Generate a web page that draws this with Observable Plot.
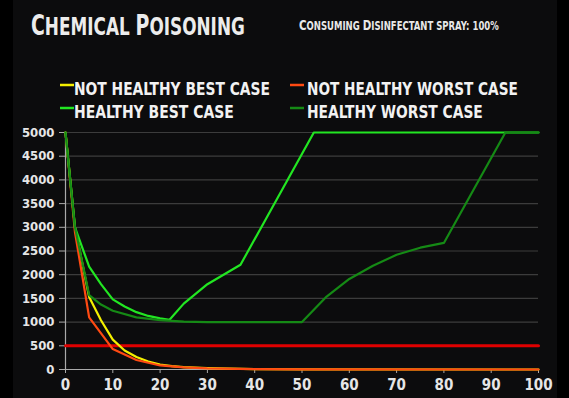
<!DOCTYPE html>
<html>
<head>
<meta charset="utf-8">
<script src="https://cdn.jsdelivr.net/npm/d3@7"></script>
<script src="https://cdn.jsdelivr.net/npm/@observablehq/plot@0.6"></script>
<style>
  html, body { margin: 0; padding: 0; background: #000; }
  #wrap { position: relative; width: 569px; height: 398px; background: #000; overflow: hidden; }
  #panel { position: absolute; left: 13px; top: 0; width: 544px; height: 398px; background: #0c0c0d; }
  #head, #chart { position: absolute; left: 0; }
  #head { top: 0; }
  #chart { top: 126px; }
  .nf { font-family: "Liberation Sans Narrow", "DejaVu Sans Condensed", "Arial Narrow", sans-serif; font-weight: bold; font-stretch: condensed; }
</style>
</head>
<body>
<div id="wrap">
  <div id="panel"></div>
  <svg id="head" width="569" height="126" class="nf">
    <text id="title" fill="#ececec"><tspan font-size="28">C</tspan><tspan font-size="25">HEMICAL </tspan><tspan font-size="28">P</tspan><tspan font-size="25">OISONING</tspan></text>
    <text id="subtitle" fill="#e8e8e8"><tspan font-size="14">C</tspan><tspan font-size="11.5">ONSUMING </tspan><tspan font-size="14">D</tspan><tspan font-size="11.5">ISINFECTANT SPRAY: 100%</tspan></text>
    <g id="legend"></g>
  </svg>
  <div id="chart"></div>
</div>
<script>
// Legend entries
const legendNames = ["NOT HEALTHY BEST CASE", "NOT HEALTHY WORST CASE", "HEALTHY BEST CASE", "HEALTHY WORST CASE"];
const legendColors = ["#f4f000", "#ff4a12", "#22e622", "#158a15"];

// Series data (x = time, y = value)
const notHealthyBestX = [0, 2, 5, 7.5, 10, 12.5, 15, 17.5, 20, 22.5, 25, 30, 40, 50, 100];
const notHealthyBestY = [5000, 3000, 1530, 1040, 630, 400, 265, 170, 105, 70, 50, 30, 10, 4, 0];

const notHealthyWorstX = [0, 2, 5, 10, 15, 20, 25, 30, 40, 50, 100];
const notHealthyWorstY = [5000, 2900, 1100, 430, 200, 85, 45, 25, 8, 3, 0];

const healthyBestX = [0, 2, 5, 7.5, 10, 12.5, 15, 17.5, 20, 22, 25, 30, 37, 52.5, 100];
const healthyBestY = [5000, 3000, 2170, 1800, 1480, 1330, 1210, 1130, 1080, 1050, 1390, 1800, 2210, 5000, 5000];

const healthyWorstX = [0, 2, 5, 7.5, 10, 15, 20, 25, 30, 40, 50, 55, 60, 65, 70, 75, 80, 93, 100];
const healthyWorstY = [5000, 3000, 1570, 1370, 1240, 1100, 1040, 1010, 1000, 1000, 1000, 1520, 1910, 2190, 2420, 2570, 2670, 5000, 5000];

const thresholdX = [0, 100];
const thresholdY = [500, 500];

const yTicks = [0, 500, 1000, 1500, 2000, 2500, 3000, 3500, 4000, 4500, 5000];
const xTicks = [0, 10, 20, 30, 40, 50, 60, 70, 80, 90, 100];

const toRows = (xs, ys) => xs.map((x, i) => ({x, y: ys[i]}));

// Fit a text element horizontally to a target width by scaling (keeps heights)
function fitText(el, x, y, width) {
  const natural = el.getComputedTextLength();
  const sx = natural > 0 ? width / natural : 1;
  el.setAttribute("transform", `translate(${x},${y}) scale(${sx},1)`);
}

const NS = "http://www.w3.org/2000/svg";
fitText(document.getElementById("title"), 31, 35, 214);
fitText(document.getElementById("subtitle"), 299, 30, 200);

// Legend drawing: [swatch x, text baseline, text x, text length]
const legendPos = [[60, 94.5, 74, 196], [290, 94.5, 307, 211], [60, 117.5, 74, 160], [290, 117.5, 307, 176]];
const lg = document.getElementById("legend");
legendNames.forEach((name, i) => {
  const [sx, by, tx, tl] = legendPos[i];
  const ln = document.createElementNS(NS, "line");
  ln.setAttribute("x1", sx); ln.setAttribute("x2", sx + 14);
  ln.setAttribute("y1", by - 9.5); ln.setAttribute("y2", by - 9.5);
  ln.setAttribute("stroke", legendColors[i]); ln.setAttribute("stroke-width", 2.5);
  lg.appendChild(ln);
  const t = document.createElementNS(NS, "text");
  t.setAttribute("font-size", 18); t.setAttribute("fill", "#f2f2f2");
  t.textContent = name;
  lg.appendChild(t);
  fitText(t, tx, by, tl);
});

const chart = Plot.plot({
  width: 569,
  height: 272,
  marginTop: 6,
  marginLeft: 65,
  marginRight: 31,
  marginBottom: 29,
  style: {background: "transparent", color: "#e6e6e6", fontFamily: "'Liberation Sans Narrow', 'DejaVu Sans Condensed', sans-serif", fontWeight: "bold"},
  x: {domain: [0, 100]},
  y: {domain: [0, 5000]},
  marks: [
    Plot.gridY(yTicks, {stroke: "#3c3c3c", strokeOpacity: 1, strokeWidth: 1.2}),
    Plot.axisY(yTicks, {tickSize: 6, tickPadding: 5, fontSize: 13, label: null, stroke: "#aaa", tickFormat: d => String(d)}),
    Plot.axisX(xTicks, {tickSize: 4, tickPadding: 6, fontSize: 15, label: null, stroke: "#aaa", tickFormat: d => String(d)}),
    Plot.ruleX([0], {y1: 0, y2: 5000, stroke: "#aaa", strokeWidth: 1.2}),
    Plot.ruleY([0], {stroke: "#aaa", strokeWidth: 1.2}),
    Plot.line(toRows(thresholdX, thresholdY), {x: "x", y: "y", stroke: "#e00000", strokeWidth: 3}),
    Plot.line(toRows(notHealthyBestX, notHealthyBestY), {x: "x", y: "y", stroke: legendColors[0], strokeWidth: 2.2}),
    Plot.line(toRows(notHealthyWorstX, notHealthyWorstY), {x: "x", y: "y", stroke: legendColors[1], strokeWidth: 2.2}),
    Plot.line(toRows(healthyBestX, healthyBestY), {x: "x", y: "y", stroke: legendColors[2], strokeWidth: 2.2}),
    Plot.line(toRows(healthyWorstX, healthyWorstY), {x: "x", y: "y", stroke: legendColors[3], strokeWidth: 2.2})
  ]
});
document.getElementById("chart").appendChild(chart);
</script>
</body>
</html>
